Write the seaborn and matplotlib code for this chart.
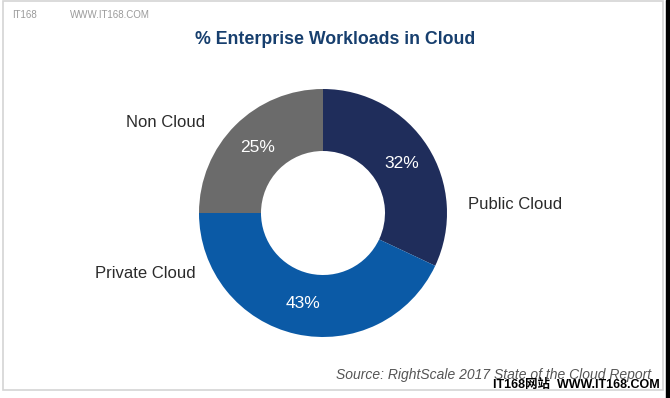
import matplotlib.pyplot as plt
from matplotlib.patches import Rectangle
import seaborn as sns

categories = ['Public Cloud', 'Private Cloud', 'Non Cloud']
shares = [32, 43, 25]
colors = ['#1f2d5b', '#0b5aa6', '#6b6b6b']

sns.set_style('white')
plt.rcParams['font.family'] = ['Liberation Sans', 'Noto Sans CJK SC', 'DejaVu Sans']

fig = plt.figure(figsize=(6.7, 3.98), dpi=100)
ax = fig.add_axes([0, 0, 1, 1])

wedges, texts, autotexts = ax.pie(
    shares, colors=colors, startangle=90, counterclock=False,
    autopct='%d%%', pctdistance=0.75,
    wedgeprops=dict(width=0.5, linewidth=0),
    textprops=dict(color='white', fontsize=12.5))

# centre at (323, 213) px, radius 124 px
ax.set_xlim(-323 / 124, (670 - 323) / 124)
ax.set_ylim(-(398 - 213) / 124, 213 / 124)
ax.set_aspect('auto')
ax.axis('off')

label_pos = {'Public Cloud': (1.55, 0.07),
             'Private Cloud': (-1.43, -0.49),
             'Non Cloud': (-1.27, 0.73)}
for name in categories:
    x, y = label_pos[name]
    ax.text(x, y, name, ha='center', va='center', fontsize=12, color='#2b2b2b')

fig.text(335 / 670, 1 - 40 / 398, '% Enterprise Workloads in Cloud',
         ha='center', va='center', fontsize=12.8, fontweight='bold',
         color='#173f6e')

fig.text(651 / 670, 1 - 375 / 398, 'Source: RightScale 2017 State of the Cloud Report',
         ha='right', va='center', fontsize=10, style='italic', color='#555555')

# frame and watermarks
fig.patches.append(Rectangle((3 / 670, 1 - 390 / 398), 660 / 670, 389 / 398,
                             transform=fig.transFigure, fill=False,
                             edgecolor='#d4d4d4', linewidth=1.2))
fig.patches.append(Rectangle((666 / 670, 0), 4 / 670, 1,
                             transform=fig.transFigure, color='black'))
fig.text(12 / 670, 1 - 15 / 398, 'IT168', fontsize=7, color='#9a9a9a', va='center')
fig.text(70 / 670, 1 - 15 / 398, 'WWW.IT168.COM', fontsize=7, color='#9a9a9a', va='center')
fig.text(660 / 670, 1 - 385 / 398, 'IT168网站  WWW.IT168.COM', ha='right', va='center',
         fontsize=9, fontweight='bold', color='black',
         family=['Liberation Sans', 'Noto Sans CJK SC'])

fig.savefig('out.png', dpi=100)
